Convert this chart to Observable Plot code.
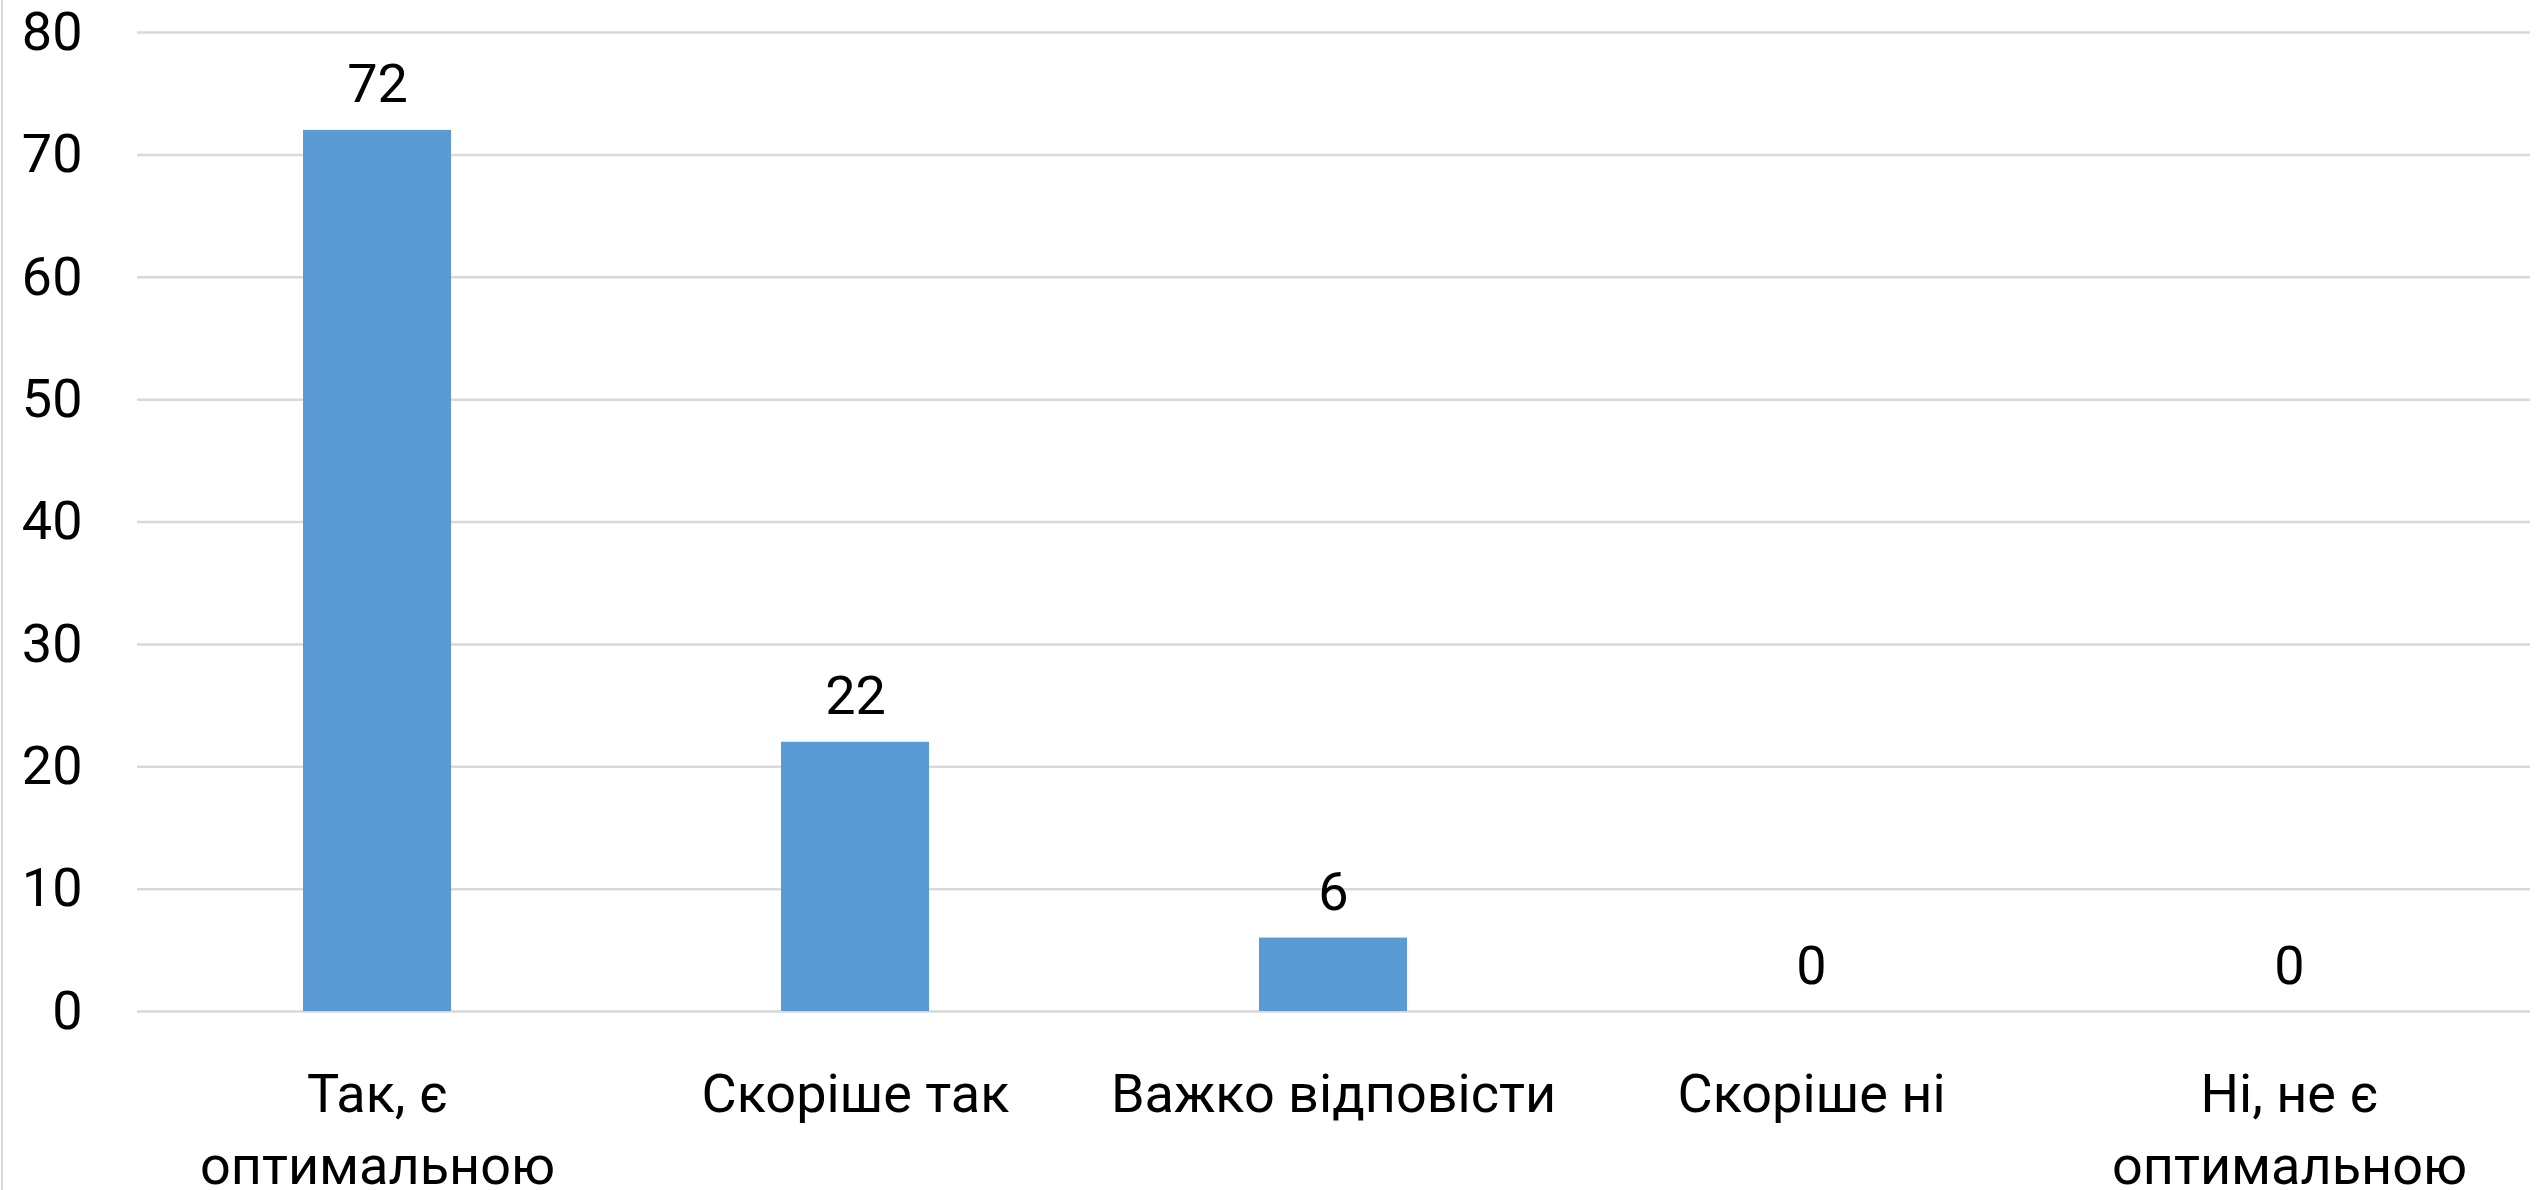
<!DOCTYPE html>
<html>
<head>
<meta charset="utf-8">
<script src="https://cdn.jsdelivr.net/npm/d3@7"></script>
<script src="https://cdn.jsdelivr.net/npm/@observablehq/plot@0.6"></script>
<style>
  html, body { margin: 0; padding: 0; background: #fff; }
  #wrap { position: relative; width: 2539px; height: 1190px; overflow: hidden; }
  #edge { position: absolute; left: 1px; top: 0; width: 2px; height: 1190px; background: #d9d9d9; }
</style>
</head>
<body>
<div id="wrap"><div id="edge"></div></div>
<script>
const categories = ["Так, є оптимальною", "Скоріше так", "Важко відповісти", "Скоріше ні", "Ні, не є оптимальною"];
const tickLabels = ["Так, є\nоптимальною", "Скоріше так", "Важко відповісти", "Скоріше ні", "Ні, не є\nоптимальною"];
const values = [72, 22, 6, 0, 0];
const yTicks = [0, 10, 20, 30, 40, 50, 60, 70, 80];

const data = categories.map((c, i) => ({category: c, value: values[i]}));
const labelOf = new Map(categories.map((c, i) => [c, tickLabels[i]]));

const chart = Plot.plot({
  width: 2539,
  height: 1190,
  marginLeft: 137,
  marginRight: 9,
  marginTop: 32,
  marginBottom: 179,
  style: {fontFamily: "Roboto, sans-serif", fontSize: "54px", color: "#000", background: "transparent"},
  x: {domain: categories, paddingInner: 0.69, paddingOuter: 0.345, label: null},
  y: {domain: [0, 80], ticks: yTicks, label: null},
  marks: [
    Plot.gridY(yTicks, {stroke: "#d9d9d9", strokeOpacity: 1, strokeWidth: 2.5}),
    Plot.barY(data, {x: "category", y: "value", fill: "#5b9bd5"}),
    Plot.text(data, {x: "category", y: "value", text: d => String(d.value), lineAnchor: "bottom", dy: -28, fill: "#000"}),
    Plot.axisY({ticks: yTicks, tickSize: 0, tickPadding: 55, label: null, fill: "#000"}),
    Plot.axisX({tickSize: 0, tickPadding: 50, tickFormat: d => labelOf.get(d), lineHeight: 1.33, label: null, fill: "#000"})
  ]
});
document.getElementById("wrap").appendChild(chart);
</script>
</body>
</html>
